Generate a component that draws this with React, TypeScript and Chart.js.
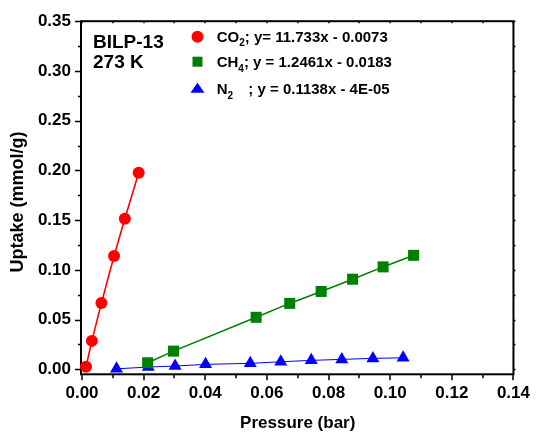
import React, { useEffect, useRef } from 'react';
import { Chart, registerables } from 'chart.js';

Chart.register(...registerables);

// ---- data ----
const co2Pressure = [0.0013, 0.0032, 0.0063, 0.0104, 0.0139, 0.0184];
const co2Uptake = [0.0026, 0.0286, 0.0666, 0.114, 0.1513, 0.1976];

const ch4Pressure = [0.0213, 0.0297, 0.0565, 0.0674, 0.0776, 0.0878, 0.0977, 0.1076];
const ch4Uptake = [0.0066, 0.0183, 0.0523, 0.0663, 0.0783, 0.0906, 0.103, 0.1146];

const n2Pressure = [0.0112, 0.0215, 0.0302, 0.0401, 0.0546, 0.0645, 0.0744, 0.0843, 0.0944, 0.1042];
const n2Uptake = [0.0005, 0.0023, 0.0033, 0.005, 0.006, 0.0076, 0.009, 0.01, 0.011, 0.0116];

const xTickValues = [0, 0.02, 0.04, 0.06, 0.08, 0.1, 0.12, 0.14];
const yTickValues = [0, 0.05, 0.1, 0.15, 0.2, 0.25, 0.3, 0.35];
const xMinorValues = [0.01, 0.03, 0.05, 0.07, 0.09, 0.11, 0.13];
const yMinorValues = [0.025, 0.075, 0.125, 0.175, 0.225, 0.275, 0.325];

const sampleLines = ['BILP-13', '273 K'];
const seriesGas = ['CO', 'CH', 'N'];
const seriesSub = ['2', '4', '2'];
const seriesFit = ['; y= 11.733x - 0.0073', '; y = 1.2461x - 0.0183', '; y = 0.1138x - 4E-05'];
const seriesColors = ['#ff0000', '#008000', '#0000ff'];

const xTitle = 'Pressure (bar)';
const yTitle = 'Uptake (mmol/g)';

const FONT = '"Liberation Sans", Arial, Helvetica, sans-serif';

const pts = (xs: number[], ys: number[]) => xs.map((x, i) => ({ x, y: ys[i] }));

const framePlugin = {
  id: 'frameAndAnnotations',
  beforeDatasetsDraw(chart: any) {
    const { ctx, chartArea, scales } = chart;
    const { left, right, top, bottom } = chartArea;
    const xs = scales.x;
    const ys = scales.y;
    ctx.save();
    ctx.strokeStyle = '#000';
    ctx.lineWidth = 2;
    ctx.strokeRect(left - 1, top, right - left + 1, bottom - top);
    ctx.lineWidth = 1.5;
    ctx.beginPath();
    yTickValues.forEach((v) => {
      const p = Math.round(ys.getPixelForValue(v)) + 0.5;
      ctx.moveTo(left - 1, p);
      ctx.lineTo(left - 7, p);
      ctx.moveTo(right, p);
      ctx.lineTo(right + 2, p);
    });
    yMinorValues.forEach((v) => {
      const p = Math.round(ys.getPixelForValue(v)) + 0.5;
      ctx.moveTo(left - 1, p);
      ctx.lineTo(left - 4, p);
      ctx.moveTo(right, p);
      ctx.lineTo(right + 2, p);
    });
    xTickValues.forEach((v) => {
      const p = Math.round(xs.getPixelForValue(v));
      ctx.moveTo(p, bottom);
      ctx.lineTo(p, bottom + 6);
      ctx.moveTo(p, top);
      ctx.lineTo(p, top + 2);
    });
    xMinorValues.forEach((v) => {
      const p = Math.round(xs.getPixelForValue(v));
      ctx.moveTo(p, bottom);
      ctx.lineTo(p, bottom + 4);
      ctx.moveTo(p, top);
      ctx.lineTo(p, top + 2);
    });
    ctx.stroke();
    ctx.restore();
  },
  afterDraw(chart: any) {
    const { ctx, chartArea } = chart;
    const { left, right } = chartArea;
    ctx.save();
    ctx.fillStyle = '#000';
    ctx.font = `bold 17px ${FONT}`;
    ctx.textAlign = 'center';
    ctx.textBaseline = 'middle';
    ctx.fillText(xTitle, (left + right) / 2, 423);
    ctx.save();
    ctx.font = `bold 18px ${FONT}`;
    ctx.translate(18, 202);
    ctx.rotate(-Math.PI / 2);
    ctx.fillText(yTitle, 0, 0);
    ctx.restore();

    ctx.textAlign = 'left';
    ctx.textBaseline = 'alphabetic';
    ctx.font = `bold 19px ${FONT}`;
    ctx.fillText(sampleLines[0], left + 11, 48);
    ctx.fillText(sampleLines[1], left + 11, 68);

    const rowsY = [36.7, 61.7, 88.3];
    const baseY = [41.7, 67.3, 94];
    const markX = 197.5;
    const textX = 216.7;
    rowsY.forEach((cy, i) => {
      ctx.fillStyle = seriesColors[i];
      ctx.beginPath();
      if (i === 0) {
        ctx.arc(markX, cy, 6, 0, Math.PI * 2);
      } else if (i === 1) {
        ctx.rect(markX - 5, cy - 5, 10, 10);
      } else {
        ctx.moveTo(markX, cy - 5.5);
        ctx.lineTo(markX + 7, cy + 4.5);
        ctx.lineTo(markX - 7, cy + 4.5);
        ctx.closePath();
      }
      ctx.fill();
      ctx.fillStyle = '#000';
      ctx.font = `bold 15px ${FONT}`;
      let x = textX;
      ctx.fillText(seriesGas[i], x, baseY[i]);
      x += ctx.measureText(seriesGas[i]).width;
      ctx.font = `bold 10px ${FONT}`;
      ctx.fillText(seriesSub[i], x, baseY[i] + 4.5);
      x += ctx.measureText(seriesSub[i]).width;
      if (i === 2) x = 248.3;
      ctx.font = `bold 15px ${FONT}`;
      ctx.fillText(seriesFit[i], x, baseY[i]);
    });
    ctx.restore();
  },
};

export default function App() {
  const ref = useRef<HTMLCanvasElement | null>(null);
  useEffect(() => {
    if (!ref.current) return;
    const tickFont = { family: FONT, size: 17, weight: 'bold' as const };
    const chart = new Chart(ref.current, {
      type: 'scatter',
      data: {
        datasets: [
          {
            label: 'CO2',
            data: pts(co2Pressure, co2Uptake),
            showLine: true,
            borderColor: seriesColors[0],
            backgroundColor: seriesColors[0],
            borderWidth: 1.6,
            pointStyle: 'circle',
            pointRadius: 6,
            pointBorderWidth: 0,
            clip: false,
          },
          {
            label: 'CH4',
            data: pts(ch4Pressure, ch4Uptake),
            showLine: true,
            borderColor: seriesColors[1],
            backgroundColor: seriesColors[1],
            borderWidth: 1.6,
            pointStyle: 'rect',
            pointRadius: 7.8,
            pointBorderWidth: 0,
            clip: false,
          },
          {
            label: 'N2',
            data: pts(n2Pressure, n2Uptake),
            showLine: true,
            borderColor: seriesColors[2],
            backgroundColor: seriesColors[2],
            borderWidth: 1,
            pointStyle: 'triangle',
            pointRadius: 7.5,
            pointBorderWidth: 0,
            clip: false,
          },
        ],
      },
      options: {
        animation: false,
        responsive: false,
        devicePixelRatio: 1,
        layout: { padding: { left: 0, top: 19.3, right: 21.6, bottom: 0 } },
        plugins: { legend: { display: false }, tooltip: { enabled: false } },
        scales: {
          x: {
            type: 'linear',
            min: 0,
            max: 0.14,
            grid: { display: false, drawTicks: false },
            border: { display: false },
            afterBuildTicks: (s: any) => {
              s.ticks = xTickValues.map((v) => ({ value: v }));
            },
            afterFit: (s: any) => {
              s.height = 61.7;
            },
            ticks: {
              color: '#000',
              font: tickFont,
              padding: 9,
              maxRotation: 0,
              autoSkip: false,
              callback: (v: any) => Number(v).toFixed(2),
            },
          },
          y: {
            type: 'linear',
            min: -0.005,
            max: 0.35,
            grid: { display: false, drawTicks: false },
            border: { display: false },
            afterBuildTicks: (s: any) => {
              s.ticks = yTickValues.map((v) => ({ value: v }));
            },
            afterFit: (s: any) => {
              s.width = 82;
            },
            ticks: {
              color: '#000',
              font: tickFont,
              padding: 11,
              autoSkip: false,
              callback: (v: any) => Number(v).toFixed(2),
            },
          },
        },
      },
      plugins: [framePlugin],
    });
    return () => chart.destroy();
  }, []);
  return (
    <div style={{ position: 'fixed', left: 0, top: 0, width: 539, height: 436, background: '#fff' }}>
      <canvas ref={ref} width={539} height={436} style={{ display: 'block' }} />
    </div>
  );
}
